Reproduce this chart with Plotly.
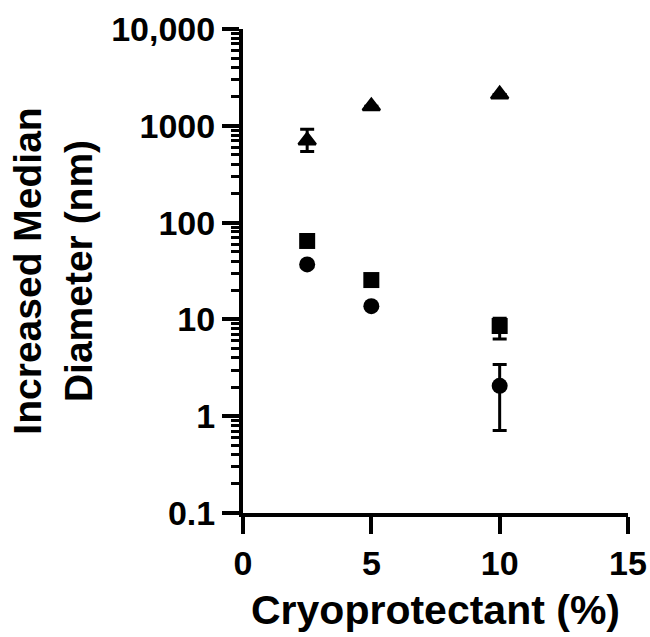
import plotly.graph_objects as go

# Cryoprotectant concentration (%)
conc = [2.5, 5, 10]

# Series values (nm)
triangle_vals = [705, 1590, 2110]
triangle_err_plus = [217, 0, 0]
triangle_err_minus = [162, 0, 0]

square_vals = [64.6, 25.5, 8.55]
square_err_plus = [0, 0, 1.75]
square_err_minus = [0, 0, 2.28]

circle_vals = [37.0, 13.7, 2.06]
circle_err_plus = [0, 0, 1.37]
circle_err_minus = [0, 0, 1.35]

y_tick_vals = [0.1, 1, 10, 100, 1000, 10000]
y_tick_text = ["0.1", "1", "10", "100", "1000", "10,000"]
x_tick_vals = [0, 5, 10, 15]
minor_ticks = [m * 10 ** k for k in range(-1, 4) for m in range(2, 10)]

FONT = "Liberation Sans, Arial, sans-serif"

fig = go.Figure()

def add_series(vals, plus, minus, symbol, size, lw):
    fig.add_trace(go.Scatter(
        x=conc, y=vals, mode="markers",
        marker=dict(symbol=symbol, size=size, color="black",
                    line=dict(color="black", width=lw)),
        error_y=dict(type="data", symmetric=False, array=plus, arrayminus=minus,
                     color="black", thickness=3, width=7),
        showlegend=False,
    ))

add_series(triangle_vals, triangle_err_plus, triangle_err_minus, "triangle-up", 15, 2.5)
add_series(square_vals, square_err_plus, square_err_minus, "square", 16, 0)
add_series(circle_vals, circle_err_plus, circle_err_minus, "circle", 16, 0)

fig.update_layout(
    width=650, height=637,
    margin=dict(l=243, r=22, t=29, b=124),
    paper_bgcolor="white", plot_bgcolor="white",
    font=dict(family=FONT, color="black"),
)

fig.update_xaxes(
    range=[0, 15], tickmode="array", tickvals=x_tick_vals,
    showgrid=False, zeroline=False, automargin=False,
    showline=True, linecolor="black", linewidth=4,
    ticks="outside", ticklen=17, tickwidth=4, tickcolor="black",
    tickfont=dict(family=FONT, size=34, weight="bold"),
    title=dict(text="Cryoprotectant (%)", font=dict(family=FONT, size=41, weight="bold"),
               standoff=16),
)

fig.update_yaxes(
    type="log", range=[-1, 4], tickmode="array",
    tickvals=y_tick_vals, ticktext=y_tick_text,
    showgrid=False, zeroline=False, automargin=False,
    showline=True, linecolor="black", linewidth=4,
    ticks="outside", ticklen=17, tickwidth=4, tickcolor="black",
    tickfont=dict(family=FONT, size=34, weight="bold"),
    minor=dict(tickmode="array", tickvals=minor_ticks, ticks="outside",
               ticklen=8, tickwidth=3, tickcolor="black", showgrid=False),
    title=dict(text="Increased Median<br>Diameter (nm)",
               font=dict(family=FONT, size=39, weight="bold"), standoff=8),
)

# remove the browser's default 8px page margin so the figure fills the window
fig.write_html(
    "out.html",
    config={"displayModeBar": False},
    post_script="document.body.style.margin='0';document.body.style.overflow='hidden';",
)
